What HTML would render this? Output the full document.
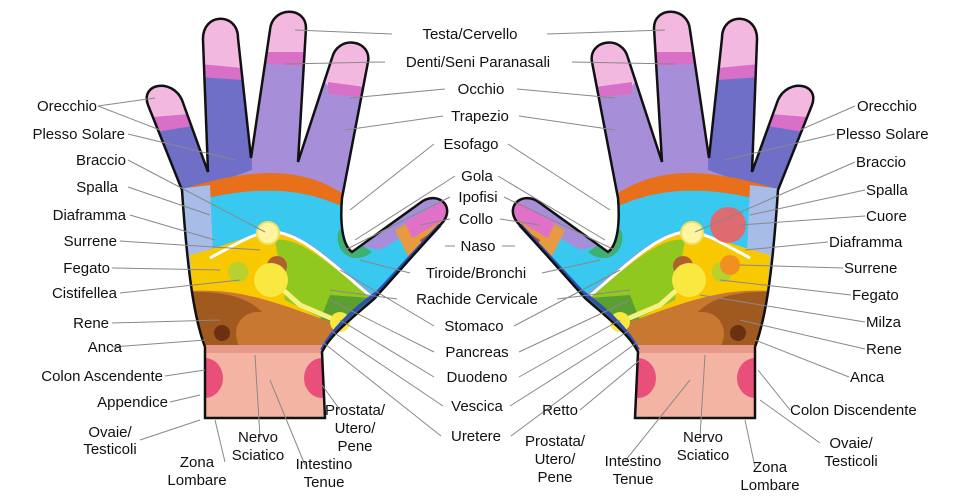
<!DOCTYPE html><html><head><style>
body{margin:0;background:#fff}
svg{display:block}
text{font-family:"Liberation Sans",sans-serif;font-size:15px;fill:#111}
</style></head><body>
<svg width="960" height="500" viewBox="0 0 960 500">
<defs>
<clipPath id="h"><path id="hp" d="M205,418 L205,347 C195,320 188,280 182,190 L148,105 C140,83 172,78 182,100 L208,172 L203,40 C202,12 238,12 238,38 L251,158 L270,30 C272,6 306,6 306,28 L298,162 L332,58 C338,34 372,40 368,62 L342,198 C340,222 342,245 352,252 L420,203 C436,190 456,205 443,222 L375,298 C350,320 330,335 322,352 L325,418 Z"/></clipPath>
<g id="hand">
<g clip-path="url(#h)">
<rect x="140" y="0" width="320" height="420" fill="#a68fd8"/>
<path d="M140,0 L250,0 L252,170 L210,185 L190,240 L140,240Z" fill="#6f6fc8"/>
<path d="M140,128 L200,112 L200,68 L240,72 L262,62 L300,56 L330,88 L370,88 L370,0 L140,0 Z" fill="#f2b8e0"/>
<path d="M140,118 L190,114 L192,126 L145,134Z" fill="#d870c8"/>
<path d="M200,64 L242,68 L242,80 L200,77Z" fill="#d870c8"/>
<path d="M266,52 L308,52 L308,66 L266,64Z" fill="#d870c8"/>
<path d="M328,82 L372,88 L372,98 L328,94Z" fill="#d870c8"/>
<path d="M180,190 C250,168 300,165 345,195 L350,215 C300,185 250,185 180,205Z" fill="#e8701a"/>
<path d="M180,205 C250,185 300,185 350,210 L355,245 L380,250 L440,215 L450,260 L380,300 C340,270 300,225 270,232 C250,235 230,245 200,260Z" fill="#38c8f0"/>
<path d="M355,240 C350,225 335,222 338,242 C342,260 360,262 372,252Z" fill="#40b070"/>
<path d="M395,230 L440,205 L450,225 L410,260Z" fill="#e89a40"/>
<path d="M405,222 L445,200 L450,216 L412,238Z" fill="#e070c8"/>
<path d="M420,240 L450,220 L455,245 L430,262Z" fill="#b85020"/>
<path d="M170,190 L210,185 L215,300 L175,300Z" fill="#a8bce8"/>
<path d="M190,255 C230,245 255,232 272,232 C300,232 330,260 375,300 L360,330 L195,330Z" fill="#f8c800"/>
<path d="M275,240 C300,236 330,265 375,300 L345,330 L285,300Z" fill="#90c820"/>
<path d="M330,295 L370,298 L350,330 L320,320Z" fill="#5aa030"/>
<path d="M180,292 C240,285 280,305 340,325 L360,345 L195,350Z" fill="#c87830"/>
<path d="M180,292 C230,290 250,300 262,312 C240,310 230,330 240,348 L195,350Z" fill="#a05a20"/>
<rect x="190" y="345" width="140" height="80" fill="#f4b4a4"/>
<rect x="190" y="345" width="140" height="8" fill="#e89a8a"/>
<ellipse cx="205" cy="378" rx="18" ry="20" fill="#e8507a"/>
<ellipse cx="322" cy="378" rx="18" ry="20" fill="#e8507a"/>
<circle cx="222" cy="333" r="8" fill="#6a3010"/>
<circle cx="277" cy="266" r="10" fill="#b06030"/>
<circle cx="238" cy="272" r="10" fill="#b8d030"/>
</g>
<path d="M210,258 C240,242 255,232 272,232 C300,232 330,262 375,300" fill="none" stroke="#fff" stroke-width="3"/>
<path d="M272,280 L300,305 L340,322" stroke="#f8f080" stroke-width="5" fill="none"/>
<circle cx="268" cy="233" r="11" fill="#fff4a0" stroke="#f0e060" stroke-width="2"/>
<circle cx="271" cy="280" r="17" fill="#f8e840"/>
<circle cx="340" cy="322" r="10" fill="#f8e840"/>
<path d="M322,350 C335,325 360,305 378,292 L440,225" fill="none" stroke="#3050b0" stroke-width="4"/>
<use href="#hp" fill="none" stroke="#111" stroke-width="2.5"/>
</g>
</defs>
<use href="#hand"/>
<use href="#hand" transform="translate(960,0) scale(-1,1)"/>
<circle cx="728" cy="225" r="18" fill="#f06060" opacity="0.9"/>
<circle cx="730" cy="265" r="10" fill="#f09020"/>
<g stroke="#888" stroke-width="1" fill="none">
<path d="M98,106 L160,130 M98,106 L155,98 M128,134 L235,160 M128,160 L265,232 M128,187 L210,215 M130,215 L215,240 M120,241 L260,250 M112,268 L220,270 M120,293 L240,280 M112,323 L220,320 M112,347 L205,340 M165,376 L205,370 M170,402 L200,395 M140,440 L200,420 M225,462 L215,420 M260,437 L255,355 M305,465 L270,380 M340,410 L322,385"/>
<path d="M392,34 L295,30 M385,62 L285,64 M445,89 L350,98 M443,116 L345,130 M434,144 L350,210 M455,176 L355,240 M450,197 L345,250 M450,219 L420,225 M455,246 L445,246 M410,273 L360,260 M397,299 L330,290 M434,326 L340,270 M434,352 L330,300 M434,377 L340,320 M443,406 L330,330 M441,436 L320,340"/>
<path d="M547,34 L665,30 M572,62 L675,64 M517,89 L615,98 M519,116 L615,130 M508,144 L610,210 M498,176 L605,240 M504,197 L615,250 M500,219 L540,225 M502,246 L515,246 M542,273 L600,260 M557,299 L630,290 M514,326 L620,270 M519,352 L630,300 M519,377 L620,320 M510,406 L630,330 M511,436 L640,340"/>
<path d="M855,106 L800,130 M835,134 L725,160 M855,162 L695,232 M865,190 L750,215 M865,216 L740,225 M828,242 L745,250 M843,268 L740,265 M851,295 L720,280 M865,322 L700,295 M865,349 L740,320 M849,377 L755,340 M790,410 L758,370 M820,443 L760,400 M755,467 L745,420 M700,437 L705,355 M625,461 L690,380 M580,410 L640,360"/>
</g>
<g text-anchor="end">
<text x="97" y="111">Orecchio</text><text x="125" y="139">Plesso Solare</text><text x="126" y="165">Braccio</text><text x="118" y="192">Spalla</text><text x="126" y="220">Diaframma</text><text x="117" y="246">Surrene</text><text x="110" y="273">Fegato</text><text x="117" y="298">Cistifellea</text><text x="109" y="328">Rene</text><text x="122" y="352">Anca</text><text x="163" y="381">Colon Ascendente</text><text x="168" y="407">Appendice</text>
</g>
<g text-anchor="middle">
<text x="110" y="437">Ovaie/</text><text x="110" y="454">Testicoli</text>
<text x="197" y="467">Zona</text><text x="197" y="485">Lombare</text>
<text x="258" y="442">Nervo</text><text x="258" y="460">Sciatico</text>
<text x="324" y="469">Intestino</text><text x="324" y="487">Tenue</text>
<text x="355" y="415">Prostata/</text><text x="355" y="433">Utero/</text><text x="355" y="451">Pene</text>
<text x="470" y="39">Testa/Cervello</text><text x="478" y="67">Denti/Seni Paranasali</text><text x="481" y="94">Occhio</text><text x="480" y="121">Trapezio</text><text x="471" y="149">Esofago</text><text x="477" y="181">Gola</text><text x="478" y="202">Ipofisi</text><text x="476" y="224">Collo</text><text x="478" y="251">Naso</text><text x="476" y="278">Tiroide/Bronchi</text><text x="477" y="304">Rachide Cervicale</text><text x="474" y="331">Stomaco</text><text x="477" y="357">Pancreas</text><text x="477" y="382">Duodeno</text><text x="477" y="411">Vescica</text><text x="476" y="441">Uretere</text>
<text x="560" y="415">Retto</text>
<text x="555" y="446">Prostata/</text><text x="555" y="464">Utero/</text><text x="555" y="482">Pene</text>
<text x="633" y="466">Intestino</text><text x="633" y="484">Tenue</text>
<text x="703" y="442">Nervo</text><text x="703" y="460">Sciatico</text>
<text x="770" y="472">Zona</text><text x="770" y="490">Lombare</text>
<text x="851" y="448">Ovaie/</text><text x="851" y="466">Testicoli</text>
</g>
<g>
<text x="857" y="111">Orecchio</text><text x="836" y="139">Plesso Solare</text><text x="856" y="167">Braccio</text><text x="866" y="195">Spalla</text><text x="866" y="221">Cuore</text><text x="829" y="247">Diaframma</text><text x="844" y="273">Surrene</text><text x="852" y="300">Fegato</text><text x="866" y="327">Milza</text><text x="866" y="354">Rene</text><text x="850" y="382">Anca</text><text x="790" y="415">Colon Discendente</text>
</g>
</svg>
</body></html>
